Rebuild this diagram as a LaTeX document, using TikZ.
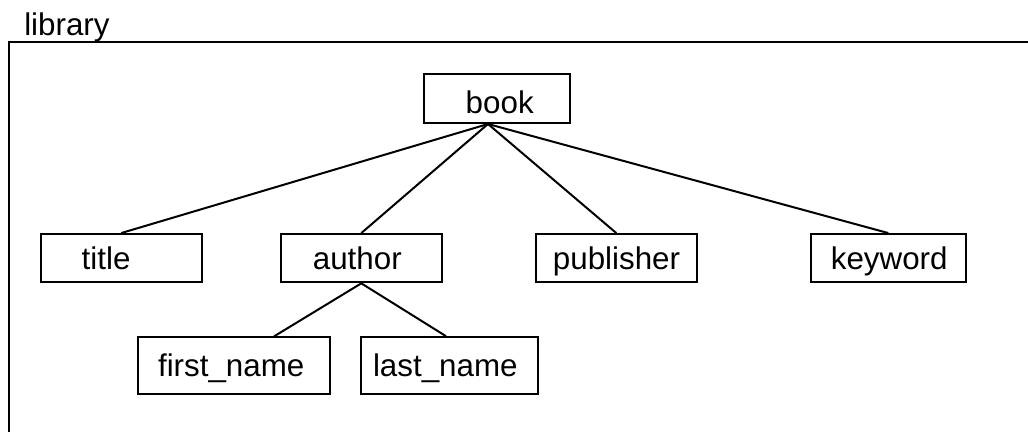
\documentclass[tikz,border=0pt]{standalone}
\usepackage{fontspec}
\setmainfont{Liberation Sans}
\hyphenpenalty=10000
\tikzset{
  box/.style n args={3}{draw, line width=1.5pt, inner xsep=#1, inner ysep=0pt,
    text width=#2, align=left, minimum height=#3, text height=16.5pt, text depth=0pt},
  link/.style={line width=1.5pt},
}
\begin{document}
\begin{tikzpicture}[x=0.75pt, y=-0.75pt, font=\fontsize{23.5}{28}\selectfont]
    \useasboundingbox (0,0) rectangle (1028,432);
    % 外框
    \draw [line width=1.5pt] (1028,42.3) -| (8.7,432);
    \node [anchor=base west, inner sep=0pt] (lib) at (24,35) {library};

    % 元素
    \node [box={31.3pt}{46.9pt}{36.75pt}, text height=22.2pt] (book) at (497,98.5) {book};
    \node [box={30.75pt}{59.25pt}{36.2pt}] (title) at (121.2,258.2) {title};
    \node [box={24.2pt}{72.6pt}{36.2pt}] (author) at (361.3,258.2) {author};
    \node [box={12.75pt}{95pt}{36.2pt}] (publisher) at (616.3,258.2) {publisher};
    \node [box={15.2pt}{86.1pt}{36.2pt}] (keyword) at (888.3,258.2) {keyword};
    \node [box={14.8pt}{114.2pt}{42.5pt}] (first) at (234.2,365.7) {first\_name};
    \node [box={9pt}{115pt}{42.5pt}] (last) at (449.7,365.5) {last\_name};

    % 连线
    \draw [link] ([xshift=-6.75pt]book.south) -- (title.north);
    \draw [link] ([xshift=-6.75pt]book.south) -- (author.north);
    \draw [link] ([xshift=-6.75pt]book.south) -- (publisher.north);
    \draw [link] ([xshift=-6.75pt]book.south) -- (keyword.north);
    \draw [link] (author.south) -- ([xshift=29.9pt]first.north);
    \draw [link] (author.south) -- ([xshift=-2.8pt]last.north);
\end{tikzpicture}
\end{document}
